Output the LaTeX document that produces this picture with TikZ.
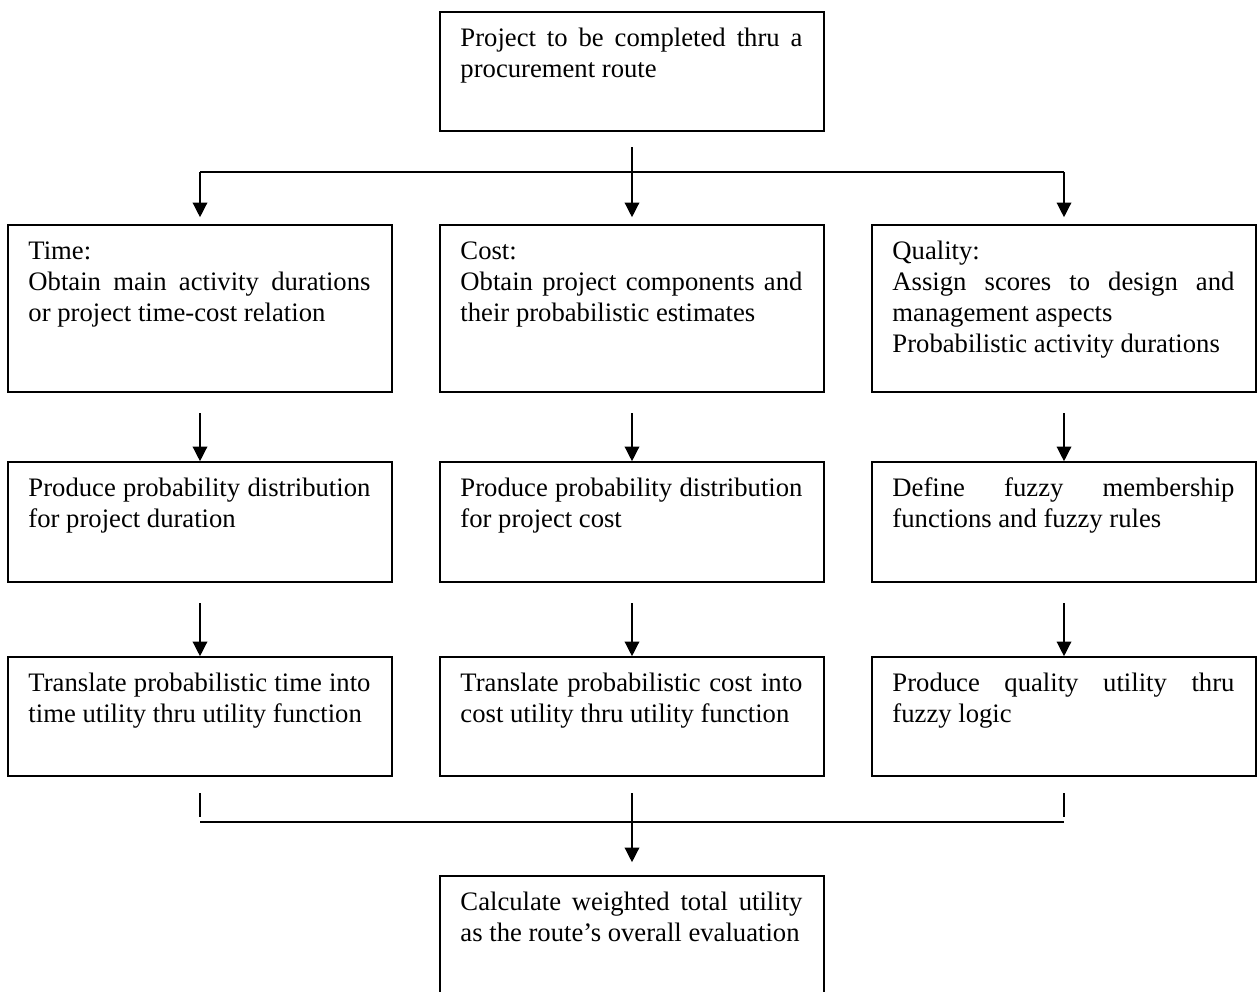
\documentclass[tikz,border=0pt]{standalone}
\usepackage{fontspec}
\setmainfont{Liberation Serif}
\usetikzlibrary{arrows.meta}
\newcommand\jl[1]{\hbox to 256.5pt{#1}}
\newcommand\nl[1]{\hbox{#1}}
\tikzset{
  box/.style={draw, line width=1.2pt, rectangle, minimum width=288pt, inner sep=0pt},
  txt/.style={anchor=base west, inner sep=0pt, font=\fontsize{20pt}{23.25pt}\selectfont},
  ln/.style={line width=1pt},
  arr/.style={line width=1pt, -{Triangle[length=11pt,width=11pt]}},
}
\begin{document}
\begin{tikzpicture}[x=0.75pt,y=-0.75pt]
\useasboundingbox (0,0) rectangle (1258,992);
\clip (0,0) rectangle (1258,992);
% boxes
\node[box, minimum height=89.25pt] (top) at (632,71.5) {};
\node[box, minimum height=125.25pt] (b1t) at (200,308.5) {};
\node[box, minimum height=125.25pt] (b1c) at (632,308.5) {};
\node[box, minimum height=125.25pt] (b1q) at (1064,308.5) {};
\node[box, minimum height=90pt] (b2t) at (200,522) {};
\node[box, minimum height=90pt] (b2c) at (632,522) {};
\node[box, minimum height=90pt] (b2q) at (1064,522) {};
\node[box, minimum height=89.25pt] (b3t) at (200,716.5) {};
\node[box, minimum height=89.25pt] (b3c) at (632,716.5) {};
\node[box, minimum height=89.25pt] (b3q) at (1064,716.5) {};
\node[box, minimum height=90pt] (fin) at (632,936) {};
% texts
\node[txt] (x0) at ([shift={(21,35.5)}]top.north west) {\vtop{\jl{Project to be completed thru a}\nl{procurement route}}};
\node[txt] (x1t) at ([shift={(21,35.5)}]b1t.north west) {\vtop{\nl{Time:}\jl{Obtain main activity durations}\nl{or project time-cost relation}}};
\node[txt] (x1c) at ([shift={(21,35.5)}]b1c.north west) {\vtop{\nl{Cost:}\jl{Obtain project components and}\nl{their probabilistic estimates}}};
\node[txt] (x1q) at ([shift={(21,35.5)}]b1q.north west) {\vtop{\nl{Quality:}\jl{Assign scores to design and}\nl{management aspects}\nl{Probabilistic activity durations}}};
\node[txt] (x2t) at ([shift={(21,35.5)}]b2t.north west) {\vtop{\jl{Produce probability distribution}\nl{for project duration}}};
\node[txt] (x2c) at ([shift={(21,35.5)}]b2c.north west) {\vtop{\jl{Produce probability distribution}\nl{for project cost}}};
\node[txt] (x2q) at ([shift={(21,35.5)}]b2q.north west) {\vtop{\jl{Define fuzzy membership}\nl{functions and fuzzy rules}}};
\node[txt] (x3t) at ([shift={(21,35.5)}]b3t.north west) {\vtop{\jl{Translate probabilistic time into}\nl{time utility thru utility function}}};
\node[txt] (x3c) at ([shift={(21,35.5)}]b3c.north west) {\vtop{\jl{Translate probabilistic cost into}\nl{cost utility thru utility function}}};
\node[txt] (x3q) at ([shift={(21,35.5)}]b3q.north west) {\vtop{\jl{Produce quality utility thru}\nl{fuzzy logic}}};
\node[txt] (xf) at ([shift={(21,35.5)}]fin.north west) {\vtop{\jl{Calculate weighted total utility}\nl{as the route’s overall evaluation}}};
% top connectors
\coordinate (s0) at (632,147);
\coordinate (hL) at (200,172);
\coordinate (hR) at (1064,172);
\draw[ln] (hL) -- (hR);
\draw[arr, shorten >=5.25pt] (s0) -- (b1c.north);
\draw[arr, shorten >=5.25pt] (hL) -- (b1t.north);
\draw[arr, shorten >=5.25pt] (hR) -- (b1q.north);
% row connectors
\coordinate (a1t) at (200,413);
\coordinate (a1c) at (632,413);
\coordinate (a1q) at (1064,413);
\draw[arr] (a1t) -- (b2t.north);
\draw[arr] (a1c) -- (b2c.north);
\draw[arr] (a1q) -- (b2q.north);
\coordinate (a2t) at (200,603);
\coordinate (a2c) at (632,603);
\coordinate (a2q) at (1064,603);
\draw[arr] (a2t) -- (b3t.north);
\draw[arr] (a2c) -- (b3c.north);
\draw[arr] (a2q) -- (b3q.north);
% bottom connectors
\coordinate (k1a) at (200,793);
\coordinate (k1b) at (200,817);
\coordinate (k2a) at (1064,793);
\coordinate (k2b) at (1064,817);
\coordinate (bL) at (200,822);
\coordinate (bR) at (1064,822);
\coordinate (sf) at (632,793);
\draw[ln] (k1a) -- (k1b);
\draw[ln] (k2a) -- (k2b);
\draw[ln] (bL) -- (bR);
\draw[arr, shorten >=9.75pt] (sf) -- (fin.north);
\end{tikzpicture}
\end{document}
